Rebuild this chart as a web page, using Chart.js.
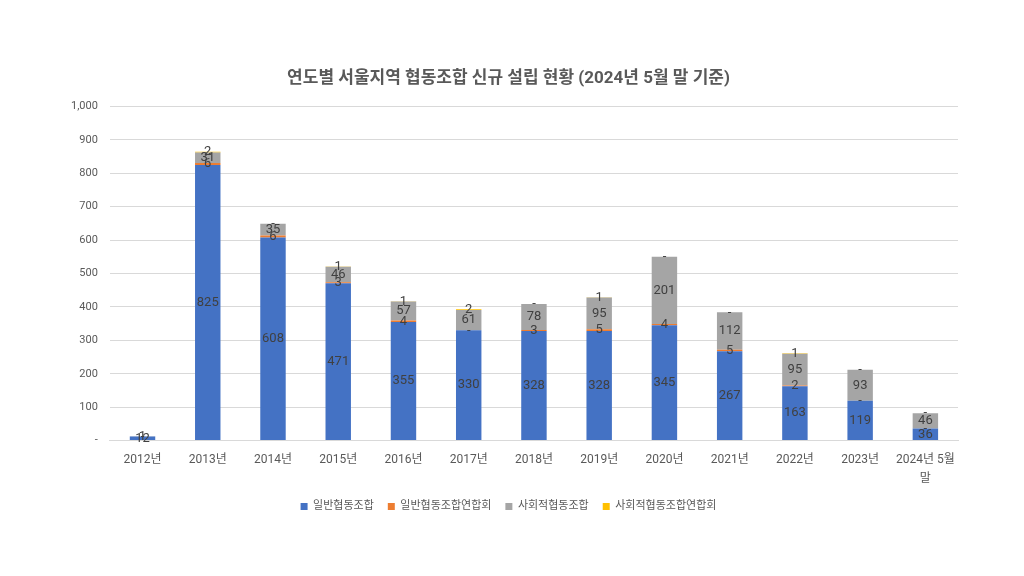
<!DOCTYPE html>
<html>
<head>
<meta charset="utf-8">
<script src="https://cdn.jsdelivr.net/npm/chart.js@4"></script>
<style>
  html, body { margin: 0; padding: 0; background: #ffffff; }
  #wrap { width: 1024px; height: 576px; }
</style>
</head>
<body>
<div id="wrap"><canvas id="coopChart" width="1024" height="576"></canvas></div>
<script>
// categories (years)
const years = ['2012년', '2013년', '2014년', '2015년', '2016년', '2017년', '2018년',
               '2019년', '2020년', '2021년', '2022년', '2023년', ['2024년 5월', '말']];

// series values
const generalCoop      = [12, 825, 608, 471, 355, 330, 328, 328, 345, 267, 163, 119, 36];
const generalUnion     = [0, 6, 6, 3, 4, 0, 3, 5, 4, 5, 2, 0, 0];
const socialCoop       = [1, 31, 35, 46, 57, 61, 78, 95, 201, 112, 95, 93, 46];
const socialUnion      = [0, 2, 0, 1, 1, 2, 0, 1, 0, 0, 1, 0, 0];

const seriesNames = ['일반협동조합', '일반협동조합연합회', '사회적협동조합', '사회적협동조합연합회'];
const seriesColors = ['#4472C4', '#ED7D31', '#A5A5A5', '#FFC000'];

const yMax = 1000;
const yStep = 100;

const FONT = "Roboto, 'Noto Sans CJK KR', sans-serif";

// draw value labels in the middle of each stacked segment, "-" for zeros
const segmentLabels = {
    id: 'segmentLabels',
    afterDatasetsDraw(chart) {
        const ctx = chart.ctx;
        ctx.save();
        ctx.font = '13px ' + FONT;
        ctx.fillStyle = '#404040';
        ctx.textAlign = 'center';
        ctx.textBaseline = 'middle';
        chart.data.datasets.forEach((ds, i) => {
            const meta = chart.getDatasetMeta(i);
            meta.data.forEach((bar, j) => {
                const v = ds.data[j];
                const txt = v === 0 ? '-' : String(v);
                ctx.fillText(txt, bar.x, (bar.y + bar.base) / 2);
            });
        });
        ctx.restore();
    }
};

const ctx = document.getElementById('coopChart').getContext('2d');
new Chart(ctx, {
    type: 'bar',
    data: {
        labels: years,
        datasets: [generalCoop, generalUnion, socialCoop, socialUnion].map((d, i) => ({
            label: seriesNames[i],
            data: d,
            backgroundColor: seriesColors[i],
            barPercentage: 0.78,
            categoryPercentage: 0.5
        }))
    },
    options: {
        responsive: false,
        animation: false,
        layout: { padding: { top: 69, left: 59, right: 66, bottom: 54 } },
        scales: {
            x: {
                stacked: true,
                grid: { display: false, drawTicks: false },
                border: { display: true, color: '#d9d9d9' },
                ticks: {
                    color: '#595959',
                    font: { family: FONT, size: 12, lineHeight: 1.6 },
                    padding: 10,
                    maxRotation: 0
                },
                // pull the legend closer to the two-line last label
                afterFit: scale => { scale.height -= 12; }
            },
            y: {
                stacked: true,
                min: 0,
                max: yMax,
                border: { display: false },
                grid: { color: '#d9d9d9', drawTicks: false },
                ticks: {
                    stepSize: yStep,
                    padding: 12,
                    color: '#595959',
                    font: { family: FONT, size: 11 },
                    callback: v => v === 0 ? '-' : v.toLocaleString('en-US')
                }
            }
        },
        plugins: {
            title: {
                display: true,
                text: '연도별 서울지역 협동조합 신규 설립 현황 (2024년 5월 말 기준)',
                color: '#595959',
                font: { family: FONT, size: 17, weight: 'bold' },
                padding: { top: 0, bottom: 17 }
            },
            legend: {
                position: 'bottom',
                labels: {
                    boxWidth: 7,
                    boxHeight: 7,
                    padding: 14,
                    color: '#595959',
                    font: { family: FONT, size: 11 }
                }
            },
            tooltip: { enabled: false }
        }
    },
    plugins: [segmentLabels]
});
</script>
</body>
</html>
